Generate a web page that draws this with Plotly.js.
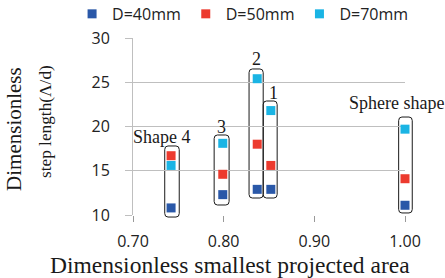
<!DOCTYPE html>
<html><head><meta charset="utf-8">
<script src="https://cdn.plot.ly/plotly-3.0.1.min.js"></script>
<style>html,body{margin:0;padding:0;background:#fff}#c{width:445px;height:278px}</style>
</head><body><div id="c"></div>
<script>
const seriesNames = ['D=40mm','D=50mm','D=70mm'];
const seriesColors = ['#2a58a8','#ec3a2e','#1ab4e4'];
const areaX = [0.742, 0.799, 0.837, 0.852, 1.00];
const d40 = [10.8, 12.3, 12.9, 12.9, 11.1];
const d50 = [16.7, 14.6, 18.0, 15.6, 14.1];
const d70 = [15.6, 18.1, 25.4, 21.8, 19.7];
const xTicks = [0.70, 0.80, 0.90, 1.00];
const xTickText = ['0.70','0.80','0.90','1.00'];
const yTicks = [10, 15, 20, 25, 30];
// group boxes (data units)
const boxX0 = [0.735, 0.7895, 0.828, 0.8436, 0.993];
const boxX1 = [0.751, 0.806, 0.8436, 0.859, 1.008];
const boxY0 = [9.77, 11.13, 11.92, 11.92, 10.23];
const boxY1 = [17.8, 19.04, 26.5, 22.88, 21.07];
const labelText = ['Shape 4','3','2','1','Sphere shape'];
const labelX = [0.732, 0.798, 0.836, 0.855, 0.9906];
const labelY = [18.81, 19.89, 27.63, 23.79, 22.66];

const xr = [0.70, 1.00], yr = [10, 30];
const px = v => (v - xr[0]) / (xr[1] - xr[0]);
const py = v => (v - yr[0]) / (yr[1] - yr[0]);

const allY = [d40, d50, d70];
const traces = allY.map((ys, i) => ({
  type: 'scatter', mode: 'markers', name: seriesNames[i], x: areaX, y: ys,
  cliponaxis: false,
  marker: {symbol: 'square', size: 9, color: seriesColors[i]}
}));

function roundRect(x0, x1, y0, y1) {
  const a = px(x0), b = px(x1), c = py(y0), d = py(y1);
  const rx = 0.012, ry = 0.02;
  return `M ${a+rx},${c} L ${b-rx},${c} Q ${b},${c} ${b},${c+ry} L ${b},${d-ry} Q ${b},${d} ${b-rx},${d} L ${a+rx},${d} Q ${a},${d} ${a},${d-ry} L ${a},${c+ry} Q ${a},${c} ${a+rx},${c} Z`;
}
const shapes = boxX0.map((x0, i) => ({
  type: 'path', xref: 'paper', yref: 'paper', layer: 'below',
  path: roundRect(x0, boxX1[i], boxY0[i], boxY1[i]),
  line: {color: '#1a1a1a', width: 1}
}));

const serif = 'Liberation Serif, Times New Roman, serif';
const annotations = labelText.map((t, i) => ({
  text: t, x: labelX[i], y: labelY[i], xref: 'x', yref: 'y',
  showarrow: false, xanchor: 'center', yanchor: 'middle',
  font: {family: serif, size: 18, color: '#1a1a1a'}
}));
annotations.push({
  text: 'Dimensionless', xref: 'paper', yref: 'paper', x: -0.44, y: 0.488,
  textangle: -90, showarrow: false, xanchor: 'center', yanchor: 'middle',
  font: {family: serif, size: 21, color: '#1a1a1a'}
});
annotations.push({
  text: 'step length(Λ/d)', xref: 'paper', yref: 'paper', x: -0.324, y: 0.53,
  textangle: -90, showarrow: false, xanchor: 'center', yanchor: 'middle',
  font: {family: serif, size: 17.3, color: '#1a1a1a'}
});
annotations.push({
  text: 'Dimensionless smallest projected area', xref: 'paper', yref: 'paper', x: 0.357, y: -0.28,
  showarrow: false, xanchor: 'center', yanchor: 'middle',
  font: {family: serif, size: 23.5, color: '#1a1a1a'}
});

const layout = {
  width: 445, height: 278,
  margin: {l: 133, r: 40, t: 38, b: 63, autoexpand: false},
  paper_bgcolor: '#fff', plot_bgcolor: '#fff',
  font: {family: 'Open Sans, sans-serif', size: 16, color: '#222'},
  showlegend: true,
  legend: {orientation: 'h', x: -0.224, xanchor: 'left', y: 1.136, yanchor: 'middle',
           font: {size: 16, color: '#222'},
           tracegroupgap: 0, bgcolor: 'rgba(0,0,0,0)'},
  xaxis: {range: xr, tickvals: xTicks, ticktext: xTickText, showgrid: false,
          zeroline: false, showline: false, ticks: 'outside', ticklen: 6, tickcolor: '#999',
          ticklabelstandoff: 6},
  yaxis: {range: yr, tickvals: yTicks, showgrid: true, gridcolor: '#bfbfbf', gridwidth: 1,
          zeroline: false, showline: true, linecolor: '#bfbfbf', ticks: 'outside', ticklen: 7,
          tickcolor: '#bfbfbf', ticklabelstandoff: 12},
  shapes: shapes,
  annotations: annotations
};
Plotly.newPlot('c', traces, layout, {staticPlot: true});
</script></body></html>
